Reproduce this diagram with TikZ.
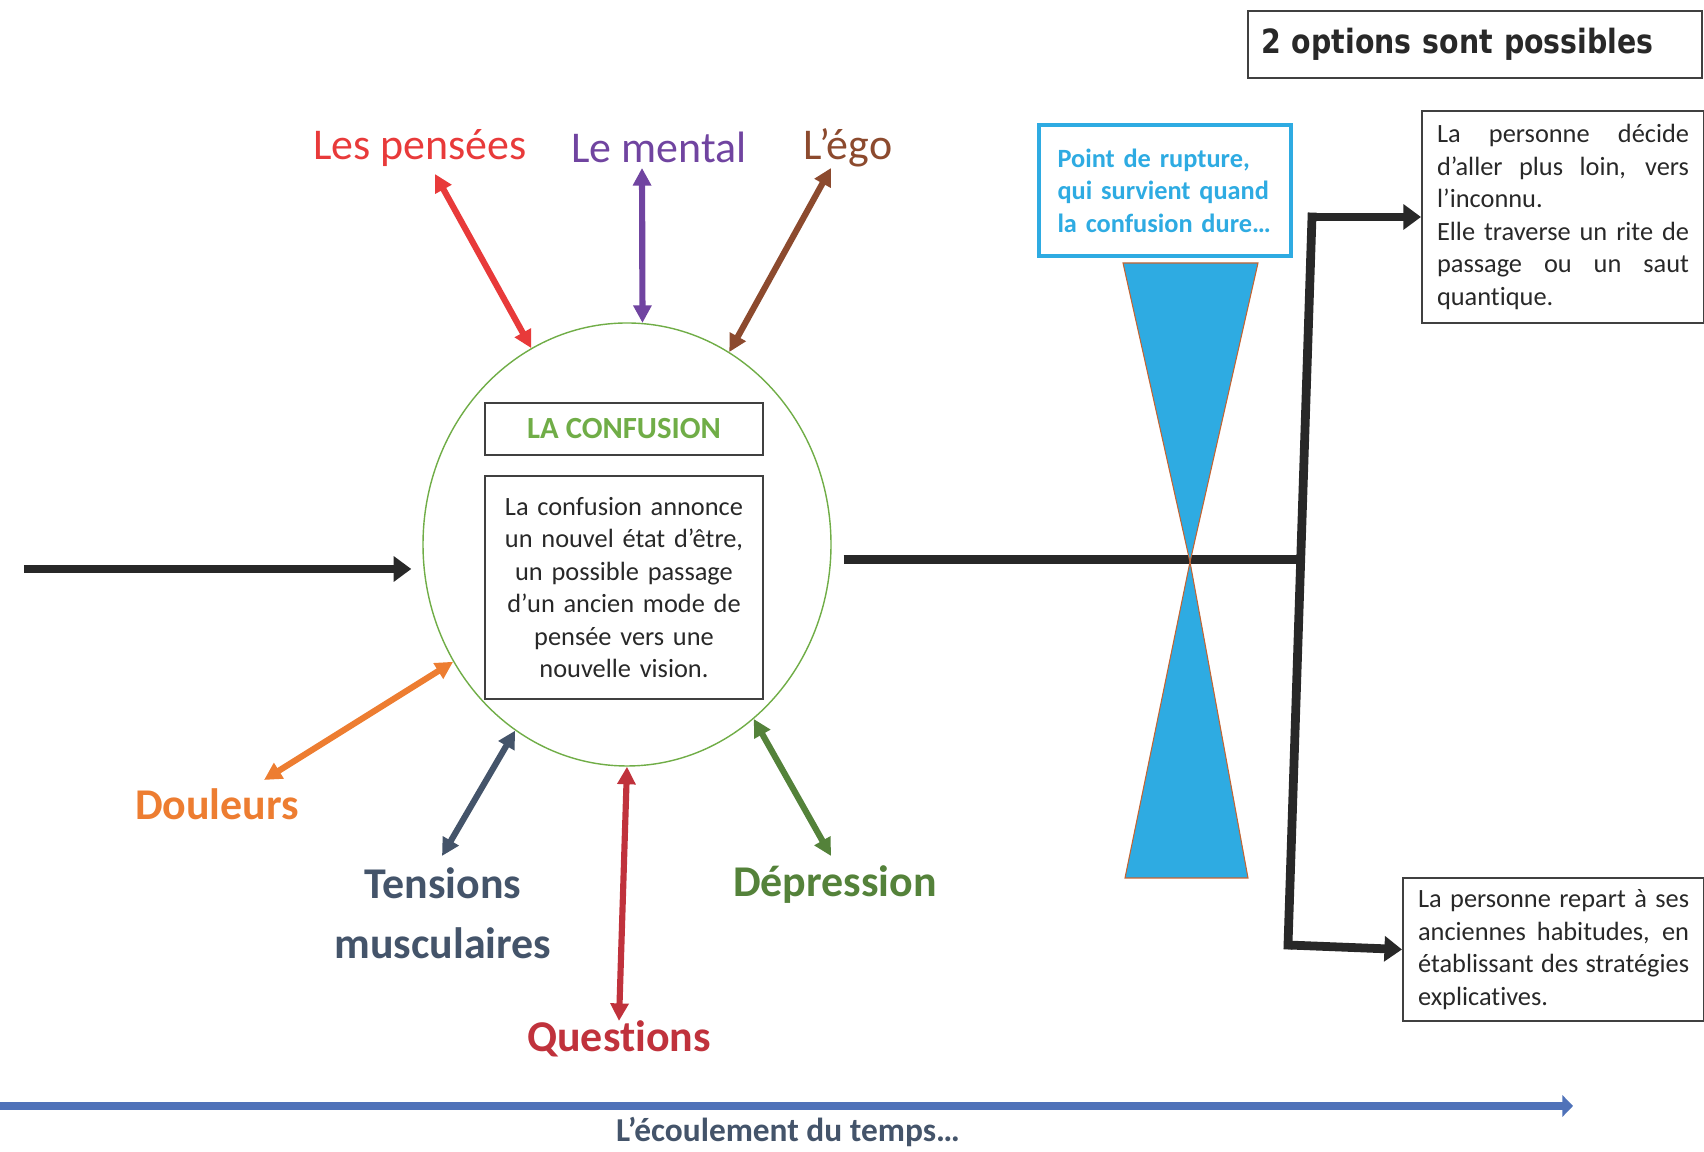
\documentclass[tikz,border=0pt]{standalone}
\usepackage{fontspec}
\setmainfont[Ligatures=NoCommon]{Carlito}
\newfontfamily\optfont[FakeStretch=0.85]{DejaVu Sans}
\usepackage{tikz}
\usetikzlibrary{shapes.geometric, arrows.meta, positioning, calc}
\usepackage{xcolor}
\definecolor{thoughtred}{RGB}{232, 58, 58}
\definecolor{mindpurple}{RGB}{112, 68, 160}
\definecolor{egobrown}{RGB}{140, 74, 46}
\definecolor{painorange}{RGB}{237, 125, 49}
\definecolor{tensionslate}{RGB}{68, 84, 106}
\definecolor{questionred}{RGB}{192, 50, 60}
\definecolor{depressgreen}{RGB}{84, 130, 58}
\definecolor{confusiongreen}{RGB}{112, 173, 71}
\definecolor{rupturecyan}{RGB}{46, 171, 226}
\definecolor{glassedge}{RGB}{196, 100, 50}
\definecolor{timeblue}{RGB}{79, 114, 185}
\definecolor{flowblack}{RGB}{40, 40, 40}
\definecolor{boxgray}{RGB}{64, 64, 64}
\tikzset{
    % Labels around the confusion circle
    state label/.style={
        font=\fontsize{25}{30}\selectfont, align=center, inner sep=2pt
    },
    strong label/.style={
        state label, font=\fontsize{25}{34}\selectfont\bfseries
    },
    % Double arrows between labels and circle
    bi arrow/.style={
        {Triangle[length=10pt, width=10pt]}-{Triangle[length=10pt, width=10pt]},
        line width=3.5pt
    },
    % Thick black flow
    flow line/.style={
        line width=5pt, color=flowblack
    },
    flow arrow/.style={
        flow line, -{Triangle[length=10pt, width=14pt]}
    },
    % Boxes with text
    text box/.style={
        rectangle, draw=boxgray, line width=1.2pt,
        font=\fontsize{15}{18.5}\selectfont, text=flowblack
    },
    option box/.style={
        text box, align=justify, inner xsep=0.3cm, anchor=west
    },
    % Hourglass halves
    hour glass/.style={
        fill=rupturecyan, draw=glassedge, line width=0.6pt
    },
    % Time axis
    time arrow/.style={
        -{Triangle[length=6pt, width=12pt]}, line width=5pt, color=timeblue
    }
}

\begin{document}
\begin{tikzpicture}

    \useasboundingbox (0, 0) rectangle (34.08, 23.04);

    % ======== CONFUSION ========
    \node[ellipse, draw=confusiongreen, line width=0.8pt,
          minimum width=8.16cm, minimum height=8.86cm] (confusion) at (12.54, 12.15) {};

    \node[text box, minimum width=5.56cm, minimum height=1.04cm,
          font=\fontsize{17.5}{20}\selectfont\bfseries, text=confusiongreen] (conftitle) at (12.48, 14.46) {LA CONFUSION};
    \node[text box, minimum width=5.56cm, minimum height=4.46cm, text width=5.2cm,
          align=center, below=0.38cm of conftitle] (confbody) {La confusion annonce\\
        un nouvel état d’être,\\
        un possible passage\\
        d’un ancien mode de\\
        pensée vers une\\
        nouvelle vision.};

    % Incoming flow
    \coordinate (flowstart) at (0.48, 11.66);
    \draw[flow arrow] (flowstart) -- ($(confusion.west |- flowstart)+(-0.22, 0)$);

    % ======== LABELS AROUND ========
    \node[state label, thoughtred] (pensees) at (8.4, 20.08) {Les pensées};
    \node[state label, mindpurple] (mental) at (13.18, 20.1) {Le mental};
    \node[state label, egobrown] (ego) at (16.96, 20.08) {L’égo};

    \node[strong label, painorange] (douleurs) at (4.34, 6.96) {Douleurs};
    \node[strong label, tensionslate] (tensions) at (8.86, 4.78) {Tensions\\musculaires};
    \node[strong label, questionred] (questions) at (12.38, 2.26) {Questions};
    \node[strong label, depressgreen] (depression) at (16.7, 5.34) {Dépression};

    % Arrow tips near the labels
    \coordinate (pensees tip) at (8.7, 19.56);
    \coordinate (mental tip) at (12.84, 19.68);
    \coordinate (ego tip) at (16.62, 19.68);
    \coordinate (douleurs tip) at (5.28, 7.44);
    \coordinate (tensions tip) at (8.84, 5.92);
    \coordinate (questions tip) at (12.38, 2.62);
    \coordinate (depression tip) at (16.62, 5.92);

    \draw[bi arrow, thoughtred] (pensees tip) -- (confusion.116);
    \draw[bi arrow, mindpurple] (mental tip) -- (confusion.86);
    \draw[bi arrow, egobrown] (ego tip) -- (confusion.62);
    \draw[bi arrow, painorange] (douleurs tip) -- (confusion.214);
    \draw[bi arrow, tensionslate] (tensions tip) -- (confusion.239);
    \draw[bi arrow, questionred] (questions tip) -- (confusion.270);
    \draw[bi arrow, depressgreen] (depression tip) -- (confusion.306);

    % ======== RUPTURE ========
    \node[rectangle, draw=rupturecyan, line width=2.8pt, minimum width=5.04cm, minimum height=2.62cm,
          text width=4.3cm, inner xsep=0.37cm, align=left, text=rupturecyan,
          font=\fontsize{15}{18.5}\selectfont\bfseries] (rupture) at (23.3, 19.23) {Point de rupture,\\
        qui survient quand\\
        la confusion dure…};

    % Fork towards the two options
    \coordinate (forktop) at (26.24, 18.7);
    \coordinate (forkbot) at (25.76, 4.14);
    \coordinate (forkmid) at ($(forktop)!0.471!(forkbot)$);
    \coordinate (neck) at (23.8, 11.8);

    \draw[flow line] ($(confusion.east |- forkmid)+(0.24, 0)$) -- (forkmid);
    \draw[flow line, line cap=rect] (forktop) -- (forkbot);

    % Hourglass
    \filldraw[hour glass] (22.46, 17.78) -- (25.16, 17.78) -- (neck) -- cycle;
    \filldraw[hour glass] (22.5, 5.48) -- (24.96, 5.48) -- (neck) -- cycle;

    % ======== OPTIONS ========
    \node[text box, line width=1.5pt, minimum width=9.08cm, minimum height=1.34cm,
          text width=8.56cm, inner xsep=0.26cm, align=left,
          font=\optfont\bfseries\fontsize{19}{22}\selectfont] (options) at (29.5, 22.15) {2 options sont possibles};

    \node[option box, minimum height=4.24cm, text width=5.04cm] (forward) at (28.42, 18.7)
        {La personne décide\linebreak d’aller plus loin, vers\linebreak l’inconnu.\\
        Elle traverse un rite de\linebreak passage ou un saut\linebreak quantique.};
    \node[option box, minimum height=2.86cm, text width=5.42cm] (backward) at (28.04, 4.05)
        {La personne repart à ses\linebreak anciennes habitudes, en\linebreak établissant des stratégies\linebreak explicatives.};

    \draw[flow arrow] (forktop) -- (forward.west);
    \draw[flow arrow] (forkbot) -- (backward.west);

    % ======== TIME ========
    \coordinate (timestart) at (0, 0.92);
    \coordinate (timeend) at (31.46, 0.92);
    \draw[time arrow] (timestart) -- (timeend);
    \node[font=\fontsize{19}{22}\selectfont\bfseries, tensionslate] (timelabel) at (15.76, 0.4) {L’écoulement du temps…};

\end{tikzpicture}
\end{document}
